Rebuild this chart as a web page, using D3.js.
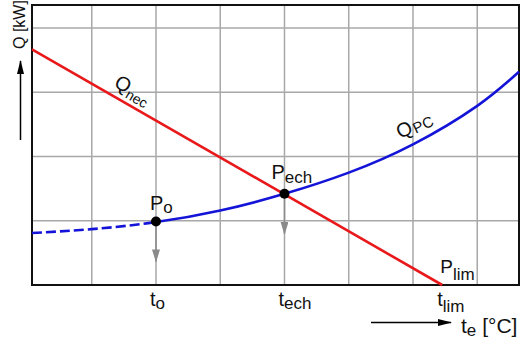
<!DOCTYPE html>
<html><head><meta charset="utf-8">
<script src="https://cdn.jsdelivr.net/npm/d3@7"></script>
<style>body{margin:0;background:#fff}svg{display:block}text{font-family:"Liberation Sans",Arial,sans-serif;fill:#111}</style>
</head><body><svg id="c" width="520" height="339"></svg>
<script>
// data (grid units)
const gridX = [1,2,3,4,5,6,7];
const gridY = [1,2,3,4];
const qpcX = [0.07,1,2,3,4,5,6,7,7.65];
const qpcY = [0.81,0.87,0.98,1.16,1.42,1.75,2.19,2.79,3.32];
const qnecX = [0.07,6.455];
const qnecY = [3.67,0];
const pointNames = ["o","ech"];
const pointX = [2,4];
const pointY = [0.99,1.42];
const tickNames = ["o","ech","lim"];
const tickX = [2,4,6.455];

const svg = d3.select("#c");
const x = d3.scaleLinear().domain([0.07,7.65]).range([32,519]);
const y = d3.scaleLinear().domain([0,4.36]).range([285,5]);

svg.append("defs").html(
 '<marker id="ga" viewBox="0 0 13 8" refX="12" refY="4" markerWidth="13" markerHeight="8" orient="auto" markerUnits="userSpaceOnUse"><path d="M0,0L13,4L0,8Z" fill="#8a8a8a"/></marker>'+
 '<marker id="ka" viewBox="0 0 14 7" refX="13" refY="3.5" markerWidth="14" markerHeight="7" orient="auto" markerUnits="userSpaceOnUse"><path d="M0,0L14,3.5L0,7Z" fill="#000"/></marker>');

// grid
svg.selectAll(".gx").data(gridX).join("line")
  .attr("x1",d=>x(d)).attr("x2",d=>x(d)).attr("y1",y(4.36)).attr("y2",y(0))
  .attr("stroke","#a8a8a8").attr("stroke-width",1.5);
svg.selectAll(".gy").data(gridY).join("line")
  .attr("y1",d=>y(d)).attr("y2",d=>y(d)).attr("x1",x(0.07)).attr("x2",x(7.65))
  .attr("stroke","#a8a8a8").attr("stroke-width",1.5);

// gray down arrows
svg.selectAll(".da").data(pointX).join("line")
  .attr("x1",d=>x(d)).attr("x2",d=>x(d))
  .attr("y1",(d,i)=>y(pointY[i])).attr("y2",(d,i)=>y(pointY[i])+40)
  .attr("stroke","#8a8a8a").attr("stroke-width",1.5).attr("marker-end","url(#ga)");

// frame
svg.append("rect").attr("x",x(0.07)).attr("y",y(4.36)).attr("width",x(7.65)-x(0.07)).attr("height",y(0)-y(4.36))
  .attr("fill","none").attr("stroke","#111").attr("stroke-width",2);

// Q_nec
const line = d3.line().x(d=>x(d[0])).y(d=>y(d[1]));
svg.append("path").attr("d",line(d3.zip(qnecX,qnecY))).attr("fill","none")
  .attr("stroke","#e8181b").attr("stroke-width",2.6);

// Q_PC
const curve = d3.line().x(d=>x(d[0])).y(d=>y(d[1])).curve(d3.curveNatural);
const pc = d3.zip(qpcX,qpcY);
const full = svg.append("path").attr("d",curve(pc)).attr("fill","none");
// split at P_o via clip paths
svg.append("clipPath").attr("id","cl").append("rect").attr("x",0).attr("y",0).attr("width",x(2)).attr("height",339);
svg.append("clipPath").attr("id","cr").append("rect").attr("x",x(2)).attr("y",0).attr("width",520).attr("height",339);
full.remove();
svg.append("path").attr("d",curve(pc)).attr("fill","none").attr("clip-path","url(#cl)")
  .attr("stroke","#1414d8").attr("stroke-width",2.6).attr("stroke-dasharray","10,4");
svg.append("path").attr("d",curve(pc)).attr("fill","none").attr("clip-path","url(#cr)")
  .attr("stroke","#1414d8").attr("stroke-width",2.6);

// points
svg.selectAll(".pt").data(pointX).join("circle")
  .attr("cx",d=>x(d)).attr("cy",(d,i)=>y(pointY[i])).attr("r",5).attr("fill","#000");

function sub(g, main, s, xx, yy, fs, sfs, dy, anchor){
  const t = g.append("text").attr("x",xx).attr("y",yy).attr("font-size",fs);
  if(anchor) t.attr("text-anchor",anchor);
  t.append("tspan").text(main);
  t.append("tspan").attr("font-size",sfs).attr("dy",dy).text(s);
  return t;
}
// point labels
sub(svg,"P","o",x(2)-6,210,20,17,3);
sub(svg,"P","ech",x(4)-13,179,20,17,4);
sub(svg,"P","lim",x(6.455)-2,273,19,17,7);
// tick labels
tickNames.forEach((n,i)=>{
  sub(svg,"t",n,x(tickX[i])-(n==="lim"?5:6),306,20,17,n==="lim"?6:3);
});

// curve labels
const qn = svg.append("text").attr("transform","translate(113,86) rotate(30)").attr("font-size",20);
qn.append("tspan").text("Q");
qn.append("tspan").attr("font-size",14).attr("dy",4).text("nec");
const qp = svg.append("text").attr("transform","translate(400,139) rotate(-25)").attr("font-size",20);
qp.append("tspan").text("Q");
qp.append("tspan").attr("font-size",15).attr("dx",1).attr("dy",2).text("PC");

// axis titles
svg.append("text").attr("transform","translate(25,49) rotate(-90)").attr("font-size",16).text("Q [kW]");
svg.append("line").attr("x1",20.5).attr("x2",20.5).attr("y1",140).attr("y2",61)
  .attr("stroke","#000").attr("stroke-width",1.5).attr("marker-end","url(#ka)");
svg.append("line").attr("x1",371).attr("x2",451).attr("y1",322.5).attr("y2",322.5)
  .attr("stroke","#000").attr("stroke-width",1.5).attr("marker-end","url(#ka)");
const te = sub(svg,"t","e",461,333,21,17,3);
te.append("tspan").attr("font-size",21).attr("dy",-3).text(" [°C]");
</script></body></html>
